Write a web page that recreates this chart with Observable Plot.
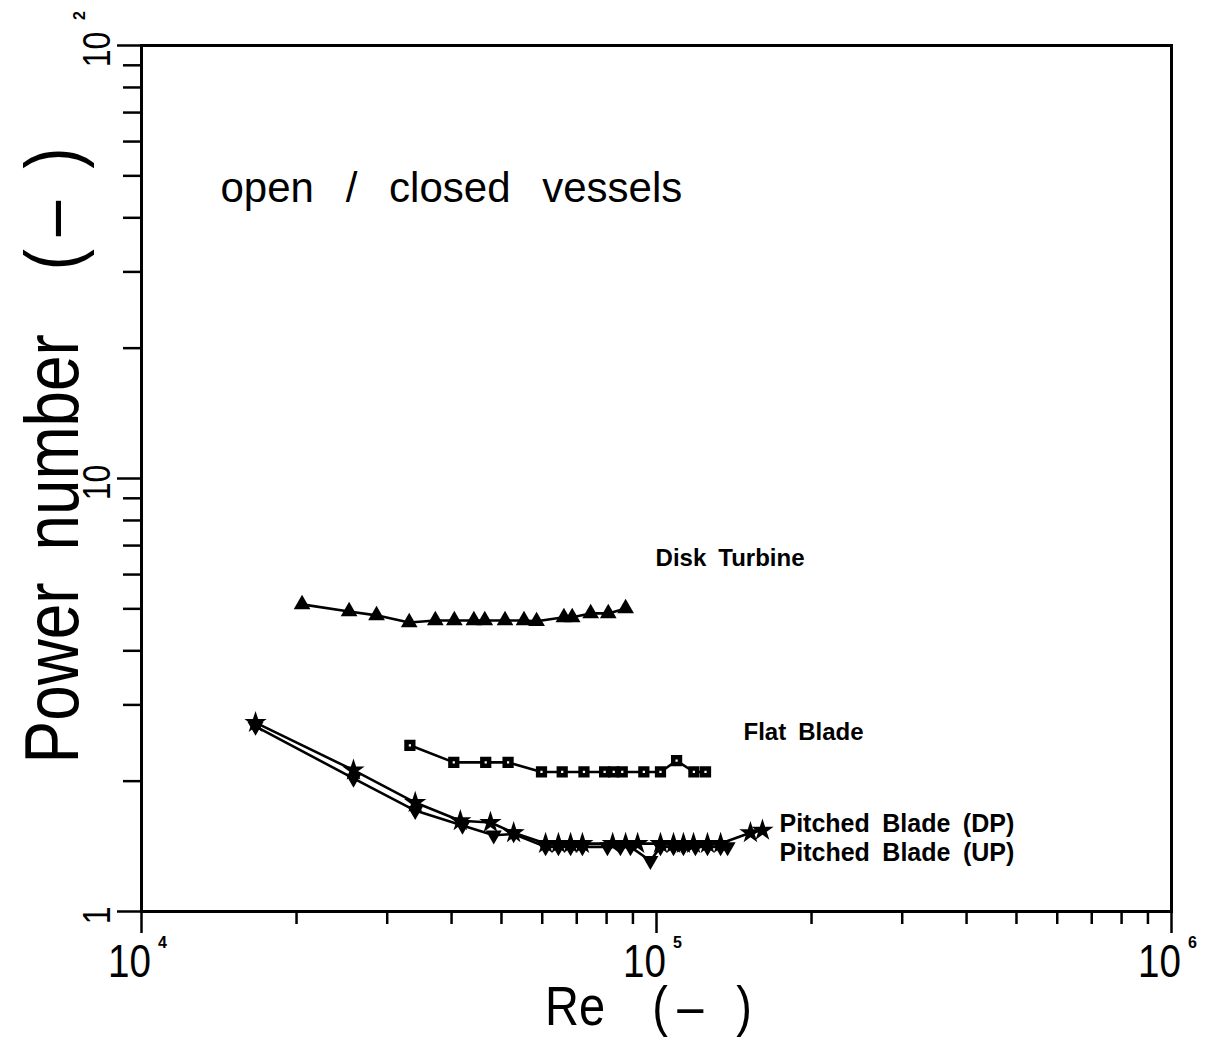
<!DOCTYPE html>
<html>
<head>
<meta charset="utf-8">
<script src="https://cdn.jsdelivr.net/npm/d3@7"></script>
<script src="https://cdn.jsdelivr.net/npm/@observablehq/plot@0.6"></script>
<style>
  body { margin: 0; background: #fff; }
  svg { display: block; }
</style>
</head>
<body>
<div id="chart"></div>
<script>
// Power number vs. Reynolds number for four impeller types
const seriesNames = ["Disk Turbine", "Flat Blade", "Pitched Blade (DP)", "Pitched Blade (UP)"];

const diskRe = [20500, 25300, 28600, 33100, 37200, 40500, 44200, 46400, 50800, 55300, 58500, 66100, 68600, 74500, 80600, 87100];
const diskNp = [5.12, 4.93, 4.83, 4.65, 4.70, 4.70, 4.70, 4.70, 4.70, 4.70, 4.68, 4.78, 4.78, 4.88, 4.88, 5.01];

const flatRe = [33200, 40400, 46600, 51500, 59800, 65600, 72300, 79300, 82600, 85800, 94500, 101800, 109400, 118200, 124500];
const flatNp = [2.42, 2.21, 2.21, 2.21, 2.10, 2.10, 2.10, 2.10, 2.10, 2.10, 2.10, 2.10, 2.23, 2.10, 2.10];

const dpRe = [16650, 25800, 34000, 41600, 47600, 52800, 60900, 64500, 68100, 71800, 82200, 87100, 91900, 101800, 107900, 112800, 118000, 125600, 133200, 152200, 160600];
const dpNp = [2.73, 2.12, 1.785, 1.62, 1.605, 1.52, 1.435, 1.435, 1.435, 1.435, 1.435, 1.435, 1.435, 1.435, 1.435, 1.435, 1.435, 1.435, 1.435, 1.52, 1.54];

const upRe = [16650, 25800, 34000, 42000, 48300, 52800, 60900, 64500, 68100, 71800, 80300, 85100, 89000, 97300, 101800, 107900, 112800, 119000, 125600, 133200, 137400];
const upNp = [2.675, 2.03, 1.71, 1.58, 1.50, 1.51, 1.41, 1.41, 1.41, 1.41, 1.41, 1.41, 1.41, 1.31, 1.41, 1.41, 1.41, 1.41, 1.41, 1.41, 1.41];

// Axis ticks and labels
const xMajor = [1e4, 1e5, 1e6];
const xMajorText = ["10", "10", "10"];
const xExponents = ["4", "5", "6"];
const xMinor = [2e4, 3e4, 4e4, 5e4, 6e4, 7e4, 8e4, 9e4, 2e5, 3e5, 4e5, 5e5, 6e5, 7e5, 8e5, 9e5];
const yMajor = [1, 10, 100];
const yMajorText = ["1", "10", "10"];
const yExponents = ["", "", "2"];
const yMinor = [2, 3, 4, 5, 6, 7, 8, 9, 20, 30, 40, 50, 60, 70, 80, 90];

const xTitle = "Re\u2003(\u2009\u2013\u2002\u2009)";
const yTitle = "Power\u2002number\u2003(\u2009\u2013\u2002)";
const vesselNote = "open\u00a0\u00a0\u2009/\u00a0\u00a0\u2009closed\u00a0\u00a0\u2009vessels";

const rows = (name, re, np) => re.map((r, i) => ({series: name, Re: r, Np: np[i]}));
const disk = rows(seriesNames[0], diskRe, diskNp);
const flat = rows(seriesNames[1], flatRe, flatNp);
const dp = rows(seriesNames[2], dpRe, dpNp);
const up = rows(seriesNames[3], upRe, upNp);

const yExpTicks = yMajor.map((v, i) => ({v, e: yExponents[i]})).filter(d => d.e);

const plain = '"Liberation Sans", Arial, sans-serif';
const label = (t) => t.replace(/ /g, "\u2002");

const chart = Plot.plot({
  width: 1216,
  height: 1040,
  marginLeft: 141,
  marginRight: 45,
  marginTop: 45,
  marginBottom: 129,
  x: {type: "log", domain: [1e4, 1e6]},
  y: {type: "log", domain: [1, 100]},
  style: {background: "white", color: "black", fontFamily: plain},
  marks: [
    // tick marks, pointing outward
    Plot.axisX(xMinor, {tickSize: 13, strokeWidth: 2.5, fill: "none", label: null}),
    Plot.axisX(xMajor, {tickSize: 22, strokeWidth: 2.5, fill: "none", label: null}),
    Plot.axisY(yMinor, {tickSize: 18, strokeWidth: 2.5, fill: "none", label: null}),
    Plot.axisY(yMajor, {tickSize: 24, strokeWidth: 2.5, fill: "none", label: null}),
    Plot.frame({strokeWidth: 3}),

    // tick labels: "10" with a raised exponent (condensed glyphs)
    Plot.text(xMajor, {x: d => d, text: (d, i) => xMajorText[i], frameAnchor: "bottom", textAnchor: "middle", dx: -12, dy: 65, fontSize: 46, className: "narrow"}),
    Plot.text(xMajor, {x: d => d, text: (d, i) => xExponents[i], frameAnchor: "bottom", textAnchor: "middle", dx: 21, dy: 36, fontSize: 16, fontWeight: "bold"}),
    Plot.text(yMajor, {y: d => d, text: (d, i) => yMajorText[i], frameAnchor: "left", textAnchor: "middle", dx: -44, dy: 4, rotate: -90, fontSize: 38, className: "narrow"}),
    Plot.text(yExpTicks, {y: "v", text: "e", frameAnchor: "left", textAnchor: "middle", dx: -62, dy: -30, rotate: -90, fontSize: 16, fontWeight: "bold"}),

    // axis titles
    Plot.text([xTitle], {text: d => d, frameAnchor: "bottom", textAnchor: "middle", dx: -8, dy: 113, fontSize: 56, className: "narrow"}),
    Plot.text([yTitle], {text: d => d, frameAnchor: "left", textAnchor: "middle", dx: -88, dy: -23, rotate: -90, fontSize: 76, className: "narrow"}),

    // annotation
    Plot.text([vesselNote], {text: d => d, frameAnchor: "top-left", dx: 79, dy: 127, textAnchor: "start", fontSize: 42}),

    // series lines
    Plot.line(disk, {x: "Re", y: "Np", strokeWidth: 2.6}),
    Plot.line(flat, {x: "Re", y: "Np", strokeWidth: 2.6}),
    Plot.line(dp, {x: "Re", y: "Np", strokeWidth: 2.6}),
    Plot.line(up, {x: "Re", y: "Np", strokeWidth: 2.6}),

    // series markers
    Plot.dot(disk, {x: "Re", y: "Np", symbol: "triangle", r: 6.2, fill: "black"}),
    Plot.dot(flat, {x: "Re", y: "Np", symbol: "square", r: 3.8, fill: "white", stroke: "black", strokeWidth: 4.5}),
    Plot.dot(dp, {x: "Re", y: "Np", symbol: "star", r: 7, fill: "black"}),
    Plot.dot(up, {x: "Re", y: "Np", symbol: "triangle", r: 6, fill: "black", rotate: 180}),

    // series labels, placed beside each curve's last point
    Plot.text(disk, Plot.selectLast({x: "Re", y: "Np", text: d => label(d.series), dx: 30, dy: -50, textAnchor: "start", fontSize: 24, fontWeight: "bold"})),
    Plot.text(flat, Plot.selectLast({x: "Re", y: "Np", text: d => label(d.series), dx: 38, dy: -40, textAnchor: "start", fontSize: 24, fontWeight: "bold"})),
    Plot.text(dp, Plot.selectLast({x: "Re", y: "Np", text: d => label(d.series), dx: 17, dy: -6, textAnchor: "start", fontSize: 25, fontWeight: "bold"})),
    Plot.text(up, Plot.selectLast({x: "Re", y: "Np", text: d => label(d.series), dx: 52, dy: 6, textAnchor: "start", fontSize: 25, fontWeight: "bold"}))
  ]
});

// condense the axis lettering horizontally along the text direction
d3.select(chart).selectAll("g.narrow text").attr("transform", function() {
  return (this.getAttribute("transform") || "") + " scale(0.84,1)";
});

document.getElementById("chart").append(chart);
</script>
</body>
</html>
